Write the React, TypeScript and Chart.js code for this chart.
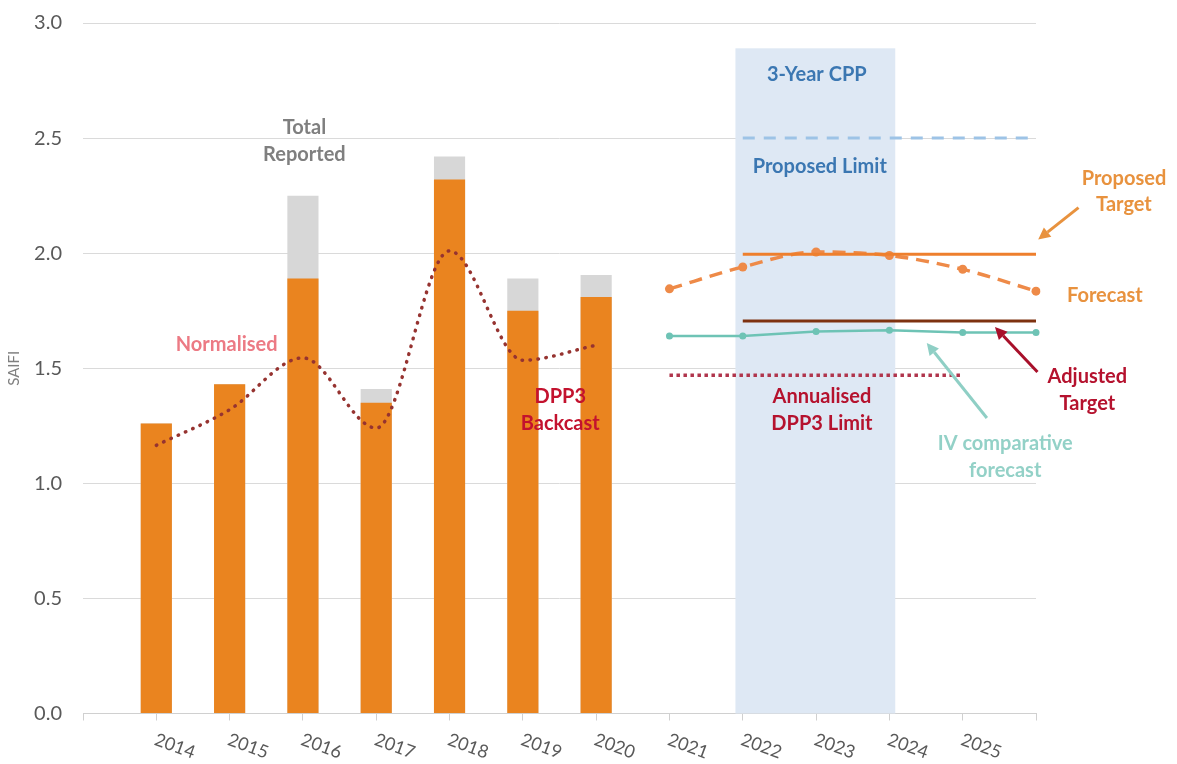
import React, { useEffect, useRef } from 'react';
import { Chart, registerables } from 'chart.js';

Chart.register(...registerables);

const FONT = 'Lato, "Open Sans", sans-serif';
const _ = null;

// x categories (2013 and 2026 are the unlabeled axis ends)
const YEARS = ['2013', '2014', '2015', '2016', '2017', '2018', '2019', '2020', '2021', '2022', '2023', '2024', '2025', '2026'];
const LABELED_YEARS = ['2014', '2015', '2016', '2017', '2018', '2019', '2020', '2021', '2022', '2023', '2024', '2025'];

const TOTAL_REPORTED = [_, 1.26, 1.43, 2.25, 1.41, 2.42, 1.89, 1.905, _, _, _, _, _, _];
const NORMALISED_BARS = [_, 1.26, 1.43, 1.89, 1.35, 2.32, 1.75, 1.81, _, _, _, _, _, _];
const NORMALISED_TREND = [_, 1.165, 1.32, 1.545, 1.24, 2.01, 1.535, 1.6, _, _, _, _, _, _];
const PROPOSED_LIMIT = [_, _, _, _, _, _, _, _, _, 2.5, 2.5, 2.5, 2.5, 2.5];
const PROPOSED_TARGET = [_, _, _, _, _, _, _, _, _, 1.995, 1.995, 1.995, 1.995, 1.995];
const ADJUSTED_TARGET = [_, _, _, _, _, _, _, _, _, 1.705, 1.705, 1.705, 1.705, 1.705];
const FORECAST = [_, _, _, _, _, _, _, _, 1.845, 1.94, 2.005, 1.99, 1.93, 1.835];
const IV_FORECAST = [_, _, _, _, _, _, _, _, 1.64, 1.64, 1.66, 1.665, 1.655, 1.655];
const DPP3_LIMIT = [_, _, _, _, _, _, _, _, 1.47, 1.47, 1.47, 1.47, 1.47, _];

const Y_MIN = 0;
const Y_MAX = 3;
const Y_STEP = 0.5;

// 3-Year CPP shaded period (years, value top)
const CPP_FROM = 2021.9;
const CPP_TO = 2024.08;
const CPP_TOP = 2.89;

type Note = { lines: string[]; year: number; value: number; color: string };
const NOTES: Note[] = [
  { lines: ['Total', 'Reported'], year: 2016.02, value: 2.544, color: '#7F7F7F' },
  { lines: ['Normalised'], year: 2014.96, value: 1.605, color: '#EC7A84' },
  { lines: ['DPP3', 'Backcast'], year: 2019.51, value: 1.375, color: '#C3122E' },
  { lines: ['3-Year CPP'], year: 2023.01, value: 2.778, color: '#3B77B2' },
  { lines: ['Proposed Limit'], year: 2023.05, value: 2.378, color: '#3B77B2' },
  { lines: ['Proposed', 'Target'], year: 2027.2, value: 2.326, color: '#E8923E' },
  { lines: ['Forecast'], year: 2026.94, value: 1.818, color: '#E8923E' },
  { lines: ['Adjusted', 'Target'], year: 2026.7, value: 1.462, color: '#B5122E' },
  { lines: ['Annualised', 'DPP3 Limit'], year: 2023.08, value: 1.375, color: '#B5122E' },
  { lines: ['IV comparative', 'forecast'], year: 2025.58, value: 1.171, color: '#93D1C7' },
];

type Arrow = { fromYear: number; fromValue: number; toYear: number; toValue: number; color: string };
const ARROWS: Arrow[] = [
  { fromYear: 2026.58, fromValue: 2.198, toYear: 2026.03, toValue: 2.059, color: '#E8923E' },
  { fromYear: 2026.02, fromValue: 1.484, toYear: 2025.44, toValue: 1.679, color: '#A8102A' },
  { fromYear: 2025.33, fromValue: 1.284, toYear: 2024.51, toValue: 1.61, color: '#8FCFC5' },
];

const FIRST_YEAR = 2013;

const overlayPlugin = {
  id: 'overlay',
  beforeDatasetsDraw(chart: any) {
    const { ctx, scales } = chart;
    const x = scales.x;
    const y = scales.y;
    const x0 = x.getPixelForValue(CPP_FROM - FIRST_YEAR);
    const x1 = x.getPixelForValue(CPP_TO - FIRST_YEAR);
    const yTop = y.getPixelForValue(CPP_TOP);
    const yBot = y.getPixelForValue(0);
    ctx.save();
    ctx.fillStyle = '#DEE8F4';
    ctx.fillRect(x0, yTop, x1 - x0, yBot - yTop);
    ctx.restore();
  },
  afterDatasetsDraw(chart: any) {
    const { ctx, scales } = chart;
    const x = scales.x;
    const y = scales.y;
    ctx.save();
    ctx.font = `bold 20px ${FONT}`;
    ctx.textAlign = 'center';
    ctx.textBaseline = 'middle';
    for (const n of NOTES) {
      const px = x.getPixelForValue(n.year - FIRST_YEAR);
      const py = y.getPixelForValue(n.value);
      ctx.fillStyle = n.color;
      n.lines.forEach((t, i) => ctx.fillText(t, px, py + i * 26.5));
    }
    for (const a of ARROWS) {
      const fx = x.getPixelForValue(a.fromYear - FIRST_YEAR);
      const fy = y.getPixelForValue(a.fromValue);
      const tx = x.getPixelForValue(a.toYear - FIRST_YEAR);
      const ty = y.getPixelForValue(a.toValue);
      const ang = Math.atan2(ty - fy, tx - fx);
      const head = 12;
      const bx = tx - head * Math.cos(ang);
      const by = ty - head * Math.sin(ang);
      ctx.strokeStyle = a.color;
      ctx.fillStyle = a.color;
      ctx.lineWidth = 3;
      ctx.beginPath();
      ctx.moveTo(fx, fy);
      ctx.lineTo(bx, by);
      ctx.stroke();
      ctx.beginPath();
      ctx.moveTo(tx, ty);
      ctx.lineTo(bx + 6 * Math.sin(ang), by - 6 * Math.cos(ang));
      ctx.lineTo(bx - 6 * Math.sin(ang), by + 6 * Math.cos(ang));
      ctx.closePath();
      ctx.fill();
    }
    ctx.restore();
  },
  afterDraw(chart: any) {
    const { ctx, scales } = chart;
    const x = scales.x;
    ctx.save();
    ctx.font = `18px ${FONT}`;
    ctx.fillStyle = '#595959';
    ctx.textAlign = 'left';
    ctx.textBaseline = 'top';
    for (const lbl of LABELED_YEARS) {
      const idx = YEARS.indexOf(lbl);
      const px = x.getPixelForValue(idx);
      ctx.save();
      ctx.translate(px + 2, x.top + 17);
      ctx.rotate((20 * Math.PI) / 180);
      ctx.fillText(lbl, 0, 0);
      ctx.restore();
    }
    ctx.restore();
  },
};

export default function App() {
  const ref = useRef<HTMLCanvasElement | null>(null);
  useEffect(() => {
    if (!ref.current) return;
    Chart.defaults.font.family = FONT;
    const chart = new Chart(ref.current, {
      type: 'bar',
      data: {
        labels: YEARS,
        datasets: [
          {
            type: 'line',
            label: 'Normalised',
            data: NORMALISED_TREND,
            borderColor: '#963330',
            borderWidth: 3.5,
            borderDash: [0.5, 7.5],
            borderCapStyle: 'round',
            cubicInterpolationMode: 'monotone',
            pointRadius: 0,
            order: 1,
          },
          {
            type: 'line',
            label: 'Proposed Limit',
            data: PROPOSED_LIMIT,
            borderColor: '#9DC3E6',
            borderWidth: 3,
            borderDash: [12, 9],
            pointRadius: 0,
            order: 2,
          },
          {
            type: 'line',
            label: 'Proposed Target',
            data: PROPOSED_TARGET,
            borderColor: '#EE7F2D',
            borderWidth: 3,
            pointRadius: 0,
            order: 3,
          },
          {
            type: 'line',
            label: 'Forecast',
            data: FORECAST,
            borderColor: '#EE8A48',
            backgroundColor: '#EE8A48',
            borderWidth: 3.5,
            borderDash: [13, 8],
            cubicInterpolationMode: 'monotone',
            pointRadius: 4.5,
            pointBorderWidth: 0,
            order: 4,
          },
          {
            type: 'line',
            label: 'Adjusted Target',
            data: ADJUSTED_TARGET,
            borderColor: '#7E3210',
            borderWidth: 3,
            pointRadius: 0,
            order: 5,
          },
          {
            type: 'line',
            label: 'IV comparative forecast',
            data: IV_FORECAST,
            borderColor: '#6EC3B5',
            backgroundColor: '#6EC3B5',
            borderWidth: 2.5,
            pointRadius: 3.5,
            pointBorderWidth: 0,
            order: 6,
          },
          {
            type: 'line',
            label: 'Annualised DPP3 Limit',
            data: DPP3_LIMIT,
            borderColor: '#B0354C',
            borderWidth: 3.5,
            borderDash: [3.5, 3.5],
            pointRadius: 0,
            order: 7,
          },
          {
            type: 'bar',
            label: 'Normalised',
            data: NORMALISED_BARS,
            backgroundColor: '#EA841F',
            grouped: false,
            categoryPercentage: 1,
            barPercentage: 0.425,
            order: 8,
          },
          {
            type: 'bar',
            label: 'Total Reported',
            data: TOTAL_REPORTED,
            backgroundColor: '#D7D7D7',
            grouped: false,
            categoryPercentage: 1,
            barPercentage: 0.425,
            order: 9,
          },
        ] as any,
      },
      options: {
        responsive: false,
        animation: false,
        layout: { padding: { top: 23, right: 141, left: 0, bottom: 0 } },
        plugins: {
          legend: { display: false },
          tooltip: { enabled: false },
        },
        scales: {
          x: {
            type: 'category',
            offset: false,
            grid: {
              offset: false,
              drawOnChartArea: false,
              drawTicks: true,
              tickLength: 7,
              color: '#D0D0D0',
            },
            border: { display: true, color: '#D0D0D0', width: 1 },
            ticks: { display: false },
            afterFit: (s: any) => {
              s.height = 50.5;
            },
          },
          y: {
            min: Y_MIN,
            max: Y_MAX,
            grid: { color: '#DADADA', drawTicks: false, lineWidth: 1 },
            border: { display: false },
            ticks: {
              stepSize: Y_STEP,
              padding: 21,
              color: '#595959',
              font: { size: 20, family: FONT },
              callback: (v: any) => Number(v).toFixed(1),
            },
            title: {
              display: true,
              text: 'SAIFI',
              color: '#7F7F7F',
              font: { size: 15, family: FONT },
              padding: { top: 5, bottom: 0 },
            },
            afterFit: (s: any) => {
              s.width = 83;
              s.paddingTop = 0;
              s.paddingBottom = 0;
            },
          },
        },
      } as any,
      plugins: [overlayPlugin],
    });
    return () => chart.destroy();
  }, []);
  return (
    <div style={{ position: 'absolute', left: 0, top: 0, width: 1177, height: 764, background: '#fff' }}>
      <canvas ref={ref} width={1177} height={764} style={{ display: 'block' }} />
    </div>
  );
}
